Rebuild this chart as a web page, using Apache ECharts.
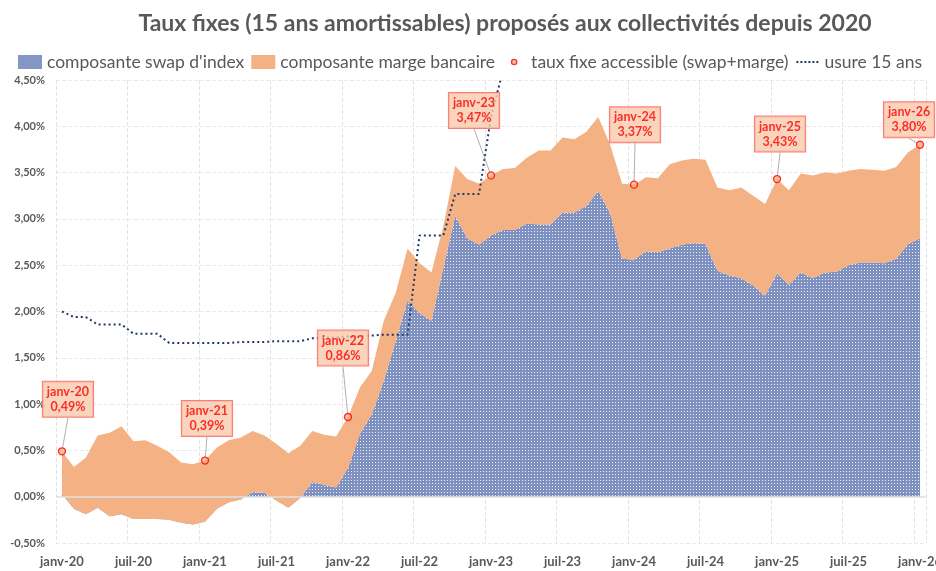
<!DOCTYPE html>
<html>
<head>
<meta charset="utf-8">
<script src="https://cdn.jsdelivr.net/npm/echarts@6/dist/echarts.min.js"></script>
<style>
  html, body { margin: 0; padding: 0; background: #fff; }
  #chart { width: 936px; height: 571px; }
</style>
</head>
<body>
<div id="chart"></div>
<script>
// mois affichés sur l'axe (janv-20 -> janv-26)
const months = ['janv', 'févr', 'mars', 'avr', 'mai', 'juin', 'juil', 'août', 'sept', 'oct', 'nov', 'déc'];
const years = ['20', '21', '22', '23', '24', '25'];
const categories = [];
years.forEach(y => months.forEach(m => categories.push(m + '-' + y)));
categories.push('janv-26');

// composante swap d'index (%)
const swap = [
  0.03, -0.13, -0.19, -0.12, -0.21, -0.19, -0.24, -0.24, -0.24, -0.25, -0.28, -0.30,
  -0.27, -0.13, -0.06, -0.03, 0.05, 0.04, -0.04, -0.12, -0.01, 0.16, 0.13, 0.10,
  0.31, 0.68, 0.89, 1.25, 1.68, 2.12, 1.98, 1.90, 2.47, 3.03, 2.79, 2.72,
  2.82, 2.88, 2.88, 2.95, 2.94, 2.94, 3.07, 3.07, 3.14, 3.30, 3.06, 2.57,
  2.56, 2.65, 2.64, 2.68, 2.72, 2.74, 2.73, 2.44, 2.39, 2.36, 2.28, 2.17,
  2.41, 2.29, 2.42, 2.36, 2.42, 2.43, 2.50, 2.53, 2.53, 2.52, 2.57, 2.73,
  2.79
];

// composante marge bancaire (%)
const marge = [
  0.46, 0.45, 0.61, 0.78, 0.90, 0.95, 0.84, 0.85, 0.79, 0.73, 0.65, 0.65,
  0.66, 0.66, 0.67, 0.67, 0.66, 0.62, 0.61, 0.59, 0.56, 0.55, 0.54, 0.55,
  0.55, 0.50, 0.47, 0.65, 0.52, 0.56, 0.54, 0.52, 0.45, 0.54, 0.64, 0.66,
  0.65, 0.66, 0.67, 0.71, 0.80, 0.80, 0.81, 0.79, 0.80, 0.80, 0.74, 0.81,
  0.81, 0.80, 0.80, 0.91, 0.91, 0.91, 0.91, 0.90, 0.92, 0.98, 0.97, 0.99,
  1.02, 1.02, 1.07, 1.11, 1.08, 1.06, 1.02, 1.01, 1.00, 1.00, 0.99, 0.99,
  1.01
];

// usure 15 ans (%), sort du cadre début 2023
const usure = [
  2.00, 1.94, 1.94, 1.86, 1.86, 1.86, 1.76, 1.76, 1.76, 1.66, 1.66, 1.66,
  1.66, 1.66, 1.66, 1.67, 1.67, 1.67, 1.68, 1.68, 1.68, 1.71, 1.72, 1.72,
  1.73, 1.73, 1.74, 1.75, 1.75, 1.75, 2.82, 2.82, 2.82, 3.27, 3.27, 3.27,
  4.10, 4.60, null, null, null, null, null, null, null, null, null, null,
  null, null, null, null, null, null, null, null, null, null, null, null,
  null, null, null, null, null, null, null, null, null, null, null, null,
  null
];

// taux fixe accessible (swap+marge), points annotés
const tauxMois = ['janv-20', 'janv-21', 'janv-22', 'janv-23', 'janv-24', 'janv-25', 'janv-26'];
const tauxValeurs = [0.49, 0.39, 0.86, 3.47, 3.37, 3.43, 3.80];

// décalage des étiquettes (px) par rapport au point
const labelShift = [[6, -52], [2, -42], [-5, -69], [-17, -65], [1, -60], [3, -45], [-11, -25]];

const pct = v => v.toFixed(2).replace('.', ',') + '%';

// motif pointillé de la zone swap
const tile = document.createElement('canvas');
tile.width = 3; tile.height = 3;
const tctx = tile.getContext('2d');
tctx.fillStyle = '#7f91c0';
tctx.fillRect(0, 0, 3, 3);
tctx.fillStyle = '#eef1f8';
tctx.fillRect(0, 0, 1, 1);

const svgIcon = s => 'image://data:image/svg+xml;utf8,' + encodeURIComponent(s);
const dotIcon = svgIcon('<svg xmlns="http://www.w3.org/2000/svg" width="24" height="14"><circle cx="12" cy="7" r="2.6" fill="#f4b183" stroke="#ff0000" stroke-width="1.4"/></svg>');
const dashIcon = svgIcon('<svg xmlns="http://www.w3.org/2000/svg" width="24" height="14"><line x1="1" y1="7" x2="23" y2="7" stroke="#203864" stroke-width="2" stroke-dasharray="2 2"/></svg>');

const FONT = 'Lato, "Open Sans", sans-serif';
const GREY = '#595959';

const chart = echarts.init(document.getElementById('chart'));
chart.setOption({
  backgroundColor: '#fff',
  animation: false,
  title: {
    text: 'Taux fixes (15 ans amortissables) proposés aux collectivités depuis 2020',
    left: 500, top: 7, textAlign: 'center',
    textStyle: { fontFamily: FONT, fontSize: 23, fontWeight: 'bold', color: GREY }
  },
  legend: {
    left: 13, top: 48,
    itemWidth: 24, itemHeight: 14, itemGap: 7,
    textStyle: { fontFamily: FONT, fontSize: 17.5, color: GREY },
    data: [
      { name: "composante swap d'index", icon: 'rect' },
      { name: 'composante marge bancaire', icon: 'rect' },
      { name: 'taux fixe accessible (swap+marge)', icon: dotIcon },
      { name: 'usure 15 ans', icon: dashIcon }
    ]
  },
  grid: { left: 56, right: 10, top: 80, bottom: 28, containLabel: false, outerBoundsMode: 'none' },
  xAxis: {
    type: 'category',
    data: categories,
    boundaryGap: true,
    axisLine: { show: false },
    axisTick: { show: false },
    axisLabel: { interval: 5, margin: 12, fontFamily: FONT, fontSize: 13, fontWeight: 'bold', color: GREY },
    splitLine: { show: true, interval: 5, lineStyle: { color: '#e3e3e3', type: 'dashed', width: 1 } }
  },
  yAxis: {
    type: 'value',
    min: -0.5, max: 4.5, interval: 0.5,
    axisLine: { show: false },
    axisTick: { show: false },
    axisLabel: { formatter: pct, margin: 11, fontFamily: FONT, fontSize: 11, fontWeight: 'bold', color: GREY },
    splitLine: { lineStyle: { color: '#ebebeb', type: 'dashed', width: 1 } }
  },
  series: [
    {
      name: "composante swap d'index",
      type: 'line',
      stack: 'taux', stackStrategy: 'all',
      data: swap,
      symbol: 'none',
      lineStyle: { width: 0 },
      itemStyle: { color: '#8497c4' },
      areaStyle: { color: { image: tile, repeat: 'repeat' }, opacity: 1 }
    },
    {
      name: 'composante marge bancaire',
      type: 'line',
      stack: 'taux', stackStrategy: 'all',
      data: marge,
      symbol: 'none',
      lineStyle: { width: 0 },
      itemStyle: { color: '#f4b183' },
      areaStyle: { color: '#f4b183', opacity: 1 },
      markLine: {
        silent: true, symbol: 'none', label: { show: false },
        lineStyle: { color: '#e2e2e2', width: 1.5, type: 'solid' },
        data: [{ yAxis: 0 }]
      }
    },
    {
      name: 'usure 15 ans',
      type: 'line',
      data: usure,
      symbol: 'none',
      clip: true,
      connectNulls: false,
      itemStyle: { color: '#203864' },
      lineStyle: { color: '#203864', width: 2, type: [2, 3] }
    },
    {
      name: 'taux fixe accessible (swap+marge)',
      type: 'scatter',
      data: tauxMois.map((m, i) => [m, tauxValeurs[i]]),
      symbol: 'circle',
      symbolSize: 7,
      itemStyle: { color: '#f4b183', borderColor: '#ff0000', borderWidth: 1.4 },
      z: 5,
      label: {
        show: true,
        position: 'inside',
        formatter: p => p.value[0] + '\n' + pct(p.value[1]),
        fontFamily: FONT, fontSize: 12.5, fontWeight: 'bold', color: '#ff0000',
        lineHeight: 15, align: 'center',
        backgroundColor: '#f8cbad', borderColor: '#ff5b5b', borderWidth: 1,
        padding: [3, 4, 2, 4]
      },
      labelLine: { show: true, lineStyle: { color: '#b0b0b0', width: 1 } },
      labelLayout: p => ({ dx: labelShift[p.dataIndex][0], dy: labelShift[p.dataIndex][1] })
    }
  ]
});
</script>
</body>
</html>
